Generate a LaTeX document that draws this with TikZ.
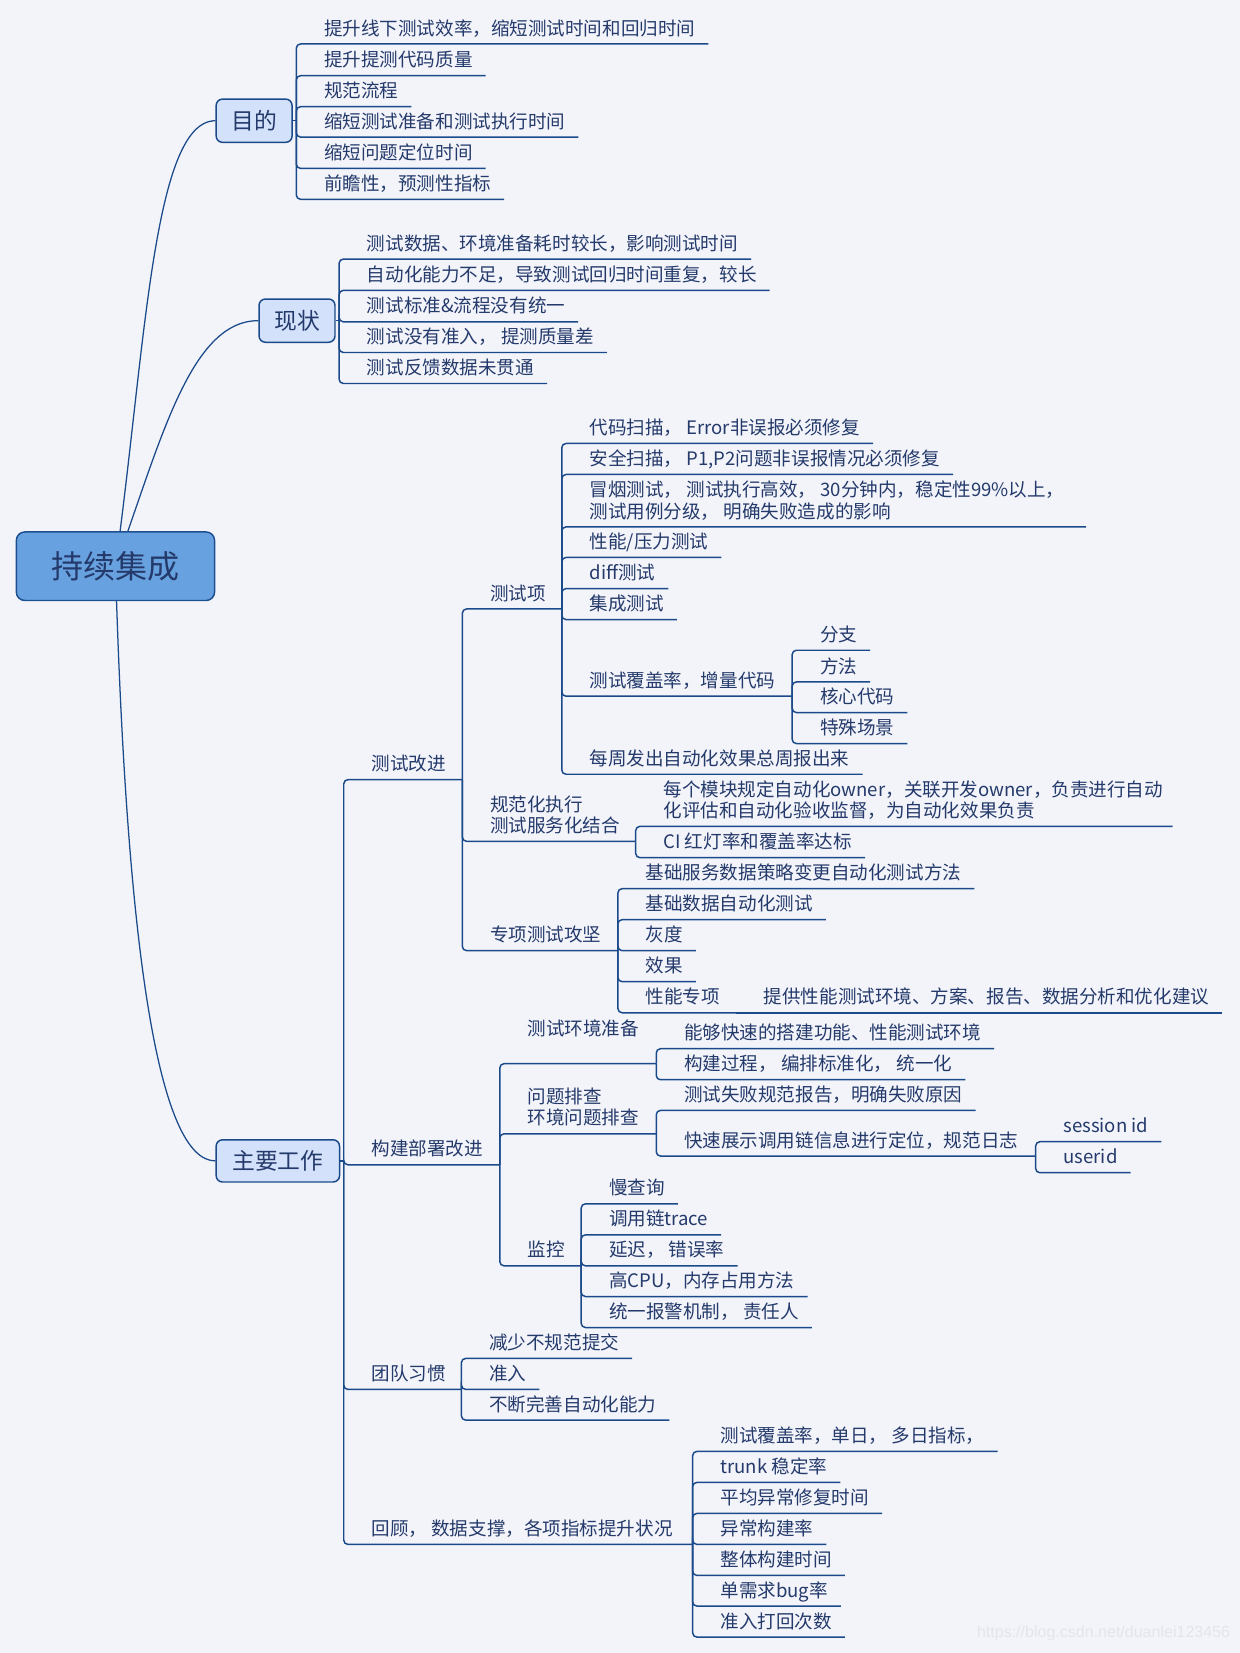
\documentclass[tikz,border=0pt]{standalone}
\usepackage{fontspec}
\newfontfamily\cjk{Noto Sans CJK SC}
\newfontfamily\wmfont{Liberation Sans}
\usetikzlibrary{backgrounds}
\definecolor{bgc}{HTML}{F3F4FA}
\definecolor{linec}{HTML}{1B4A8A}
\definecolor{textc}{HTML}{243A6B}
\definecolor{topicfill}{HTML}{D3E1FB}
\definecolor{rootfill}{HTML}{68A1DF}
\definecolor{rootborder}{HTML}{1E4F8F}
\definecolor{wmc}{HTML}{E3E5EB}
\tikzset{
  branch/.style={draw=linec, line width=0.7pt, rounded corners=2pt},
  stem/.style={draw=linec, line width=0.6pt},
  leaf/.style={anchor=south west, inner xsep=6pt, inner ysep=4pt, text depth=0pt, text=textc, align=left, font=\cjk\fontsize{8.8}{10}\selectfont},
  topic/.style={draw=linec, fill=topicfill, rounded corners=3pt, line width=0.7pt, inner sep=0pt, text=textc, font=\cjk\fontsize{10.8}{12}\selectfont},
  central/.style={draw=rootborder, fill=rootfill, rounded corners=4pt, line width=0.7pt, inner sep=0pt, minimum width=94pt, minimum height=32.5pt, text=textc, font=\cjk\fontsize{15.2}{17}\selectfont}
}
\begin{document}
\begin{tikzpicture}[x=0.5pt,y=-0.5pt]
\useasboundingbox (0,0) rectangle (1176,1567.7);
\begin{scope}[on background layer]
\fill[bgc] (0,0) rectangle (1176,1567.7);
\end{scope}

% central topic and the three main topics
\node[central] (root) at (109.5,537) {持续集成};
\node[topic, minimum width=36pt, minimum height=20.5pt] (mudi) at (241,114.5) {目的};
\node[topic, minimum width=36pt, minimum height=20.5pt] (xianzhuang) at (281.7,304.1) {现状};
\node[topic, minimum width=58.5pt, minimum height=20pt] (zhuyao) at (263.5,1101) {主要工作};

\begin{scope}[on background layer]
\draw[stem] (root.center) .. controls (138,330) and (145,114.5) .. (mudi.west);
\draw[stem] (root.center) .. controls (152,420) and (180,304.1) .. (xianzhuang.west);
\draw[stem] (root.center) .. controls (120,900) and (150,1101) .. (zhuyao.west);
\end{scope}

% 目的
\coordinate (jm) at (281,114.5);
\draw[branch] (mudi.east) -- (jm);
\foreach \i/\y/\t in {1/41.7/提升线下测试效率，缩短测试时间和回归时间, 2/71.8/提升提测代码质量, 3/101.2/规范流程, 4/130/缩短测试准备和测试执行时间, 5/159.7/缩短问题定位时间, 6/189/前瞻性，预测性指标} {
    \node[leaf] (m\i) at (295,\y) {\t};
    \draw[branch] (jm) |- (m\i.south east);
}

% 现状
\coordinate (jx) at (321.6,304.1);
\draw[branch] (xianzhuang.east) -- (jx);
\foreach \i/\y/\t in {1/245.7/测试数据、环境准备耗时较长，影响测试时间, 2/275.4/自动化能力不足，导致测试回归时间重复，较长, 3/305.2/{测试标准\&流程没有统一}, 4/334.3/测试没有准入， 提测质量差, 5/363.7/测试反馈数据未贯通} {
    \node[leaf] (x\i) at (335.6,\y) {\t};
    \draw[branch] (jx) |- (x\i.south east);
}

% 主要工作
\coordinate (jz) at (326,1101);
\draw[branch] (zhuyao.east) -- (jz);
\node[leaf] (z1) at (340,739.4) {测试改进};
\node[leaf] (z2) at (340,1104.7) {构建部署改进};
\node[leaf] (z3) at (340,1317.7) {团队习惯};
\node[leaf] (z4) at (340,1464.7) {回顾， 数据支撑，各项指标提升状况};
\coordinate (jz1) at (438.5,739.4);
\coordinate (jz2) at (474,1104.7);
\coordinate (jz3) at (437.6,1317.7);
\coordinate (jz4) at (656.9,1464.7);
\foreach \i in {1,...,4} {
    \draw[branch] (jz) |- (jz\i);
}

% 测试改进
\node[leaf] (t1) at (452.5,577.5) {测试项};
\node[leaf] (t2) at (452.5,797.9) {规范化执行\\测试服务化结合};
\node[leaf] (t3) at (452.5,901.6) {专项测试攻坚};
\coordinate (jt1) at (532.8,577.5);
\coordinate (jt2) at (602.9,797.9);
\coordinate (jt3) at (586,901.6);
\foreach \i in {1,2,3} {
    \draw[branch] (jz1) |- (jt\i);
}

% 测试项
\foreach \i/\y/\t in {1/420.6/{代码扫描， Error非误报必须修复}, 2/450/{安全扫描， P1,P2问题非误报情况必须修复}, 4/528.7/{性能/压力测试}, 5/558.2/diff测试, 6/587.6/集成测试, 8/734.3/每周发出自动化效果总周报出来} {
    \node[leaf] (a\i) at (546.8,\y) {\t};
    \draw[branch] (jt1) |- (a\i.south east);
}
\node[leaf] (a3) at (546.8,499.7) {冒烟测试， 测试执行高效， 30分钟内，稳定性99\%以上，\\测试用例分级， 明确失败造成的影响};
\coordinate (a3e) at (1030,499.7);
\draw[branch] (jt1) |- (a3e);
\node[leaf] (a7) at (546.8,660.3) {测试覆盖率，增量代码};
\coordinate (ja7) at (751.3,660.3);
\draw[branch] (jt1) |- (ja7);
\foreach \i/\y/\t in {1/616.7/分支, 2/646.7/方法, 3/675.8/核心代码, 4/705.2/特殊场景} {
    \node[leaf] (b\i) at (765.3,\y) {\t};
    \draw[branch] (ja7) |- (b\i.south east);
}

% 规范化执行
\node[leaf] (c1) at (616.9,783.7) {每个模块规定自动化owner，关联开发owner，负责进行自动\\化评估和自动化验收监督，为自动化效果负责};
\coordinate (c1e) at (1112,783.7);
\draw[branch] (jt2) |- (c1e);
\node[leaf] (c2) at (616.9,813.4) {CI 红灯率和覆盖率达标};
\draw[branch] (jt2) |- (c2.south east);

% 专项测试攻坚
\foreach \i/\y/\t in {1/842.8/基础服务数据策略变更自动化测试方法, 2/872.2/基础数据自动化测试, 3/901.6/灰度, 4/931/效果} {
    \node[leaf] (d\i) at (600,\y) {\t};
    \draw[branch] (jt3) |- (d\i.south east);
}
\node[leaf] (d5) at (600,960.5) {性能专项};
\coordinate (jd5) at (698,960.5);
\draw[branch] (jt3) |- (jd5);
\node[leaf] (e1) at (712,960.5) {提供性能测试环境、方案、报告、数据分析和优化建议};
\draw[branch] (jd5) -- (e1.south east);

% 构建部署改进
\node[leaf] (f1) at (488,990.3) {测试环境准备};
\node[leaf] (f2) at (488,1075.3) {问题排查\\环境问题排查};
\node[leaf] (f3) at (488,1200.5) {监控};
\coordinate (jf1) at (622.4,1008.8);
\coordinate (jf2) at (622.4,1075.3);
\coordinate (jf3) at (551.2,1200.5);
\foreach \i in {1,2,3} {
    \draw[branch] (jz2) |- (jf\i);
}
\foreach \i/\y/\t in {1/994.6/能够快速的搭建功能、性能测试环境, 2/1024/构建过程， 编排标准化， 统一化} {
    \node[leaf] (g\i) at (636.4,\y) {\t};
    \draw[branch] (jf1) |- (g\i.south east);
}
\node[leaf] (h1) at (636.4,1053.1) {测试失败规范报告，明确失败原因};
\draw[branch] (jf2) |- (h1.south east);
\node[leaf] (h2) at (636.4,1096.4) {快速展示调用链信息进行定位，规范日志};
\coordinate (jh2) at (982.2,1096.4);
\draw[branch] (jf2) |- (jh2);
\foreach \i/\y/\t in {1/1082.8/session id, 2/1112.2/userid} {
    \node[leaf] (k\i) at (996.2,\y) {\t};
    \draw[branch] (jh2) |- (k\i.south east);
}
\foreach \i/\y/\t in {1/1141.7/慢查询, 2/1171.1/调用链trace, 3/1200.5/延迟， 错误率, 4/1229.6/高CPU，内存占用方法, 5/1259/统一报警机制， 责任人} {
    \node[leaf] (l\i) at (565.2,\y) {\t};
    \draw[branch] (jf3) |- (l\i.south east);
}

% 团队习惯
\foreach \i/\y/\t in {1/1288.3/减少不规范提交, 2/1317.7/准入, 3/1346.8/不断完善自动化能力} {
    \node[leaf] (n\i) at (451.6,\y) {\t};
    \draw[branch] (jz3) |- (n\i.south east);
}

% 回顾
\foreach \i/\y/\t in {1/1376.5/测试覆盖率，单日， 多日指标，, 2/1405.9/trunk 稳定率, 3/1435.3/平均异常修复时间, 4/1464.7/异常构建率, 5/1494.1/整体构建时间, 6/1523.2/单需求bug率, 7/1552.6/准入打回次数} {
    \node[leaf] (o\i) at (670.9,\y) {\t};
    \draw[branch] (jz4) |- (o\i.south east);
}

\node[font=\wmfont\fontsize{7.6}{9}\selectfont, text=wmc, anchor=east, inner sep=0pt] (wm) at (1167,1549) {https://blog.csdn.net/duanlei123456};
\end{tikzpicture}
\end{document}
